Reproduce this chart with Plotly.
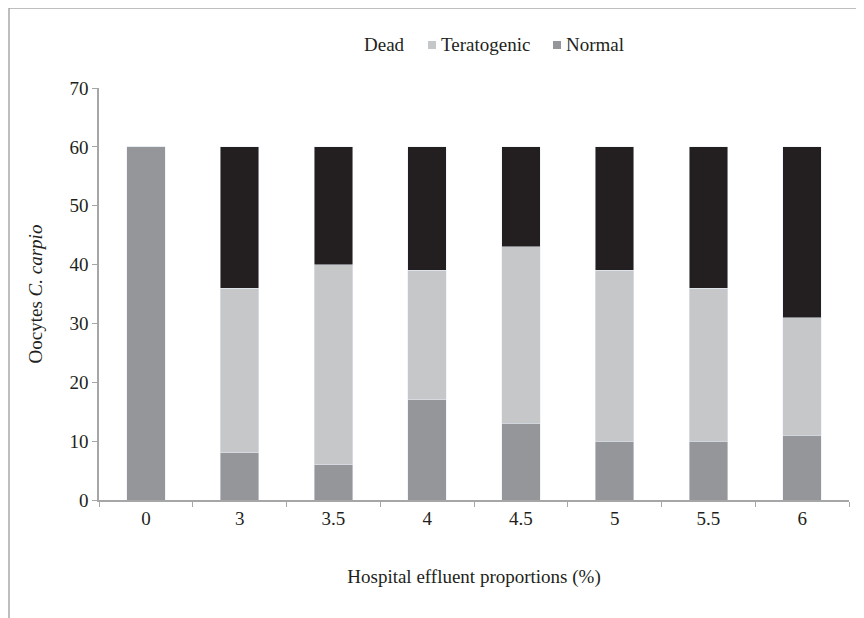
import plotly.graph_objects as go

categories = ["0", "3", "3.5", "4", "4.5", "5", "5.5", "6"]
normal = [60, 8, 6, 17, 13, 10, 10, 11]
teratogenic = [0, 28, 34, 22, 30, 29, 26, 20]
dead = [0, 24, 20, 21, 17, 21, 24, 29]
y_ticks = [0, 10, 20, 30, 40, 50, 60, 70]

C_NORMAL = "#959699"
C_TERAT = "#c6c7c8"
C_DEAD = "#231f20"
C_AXIS = "#a6a6a6"
FONT = "Liberation Serif"

OFF = 8  # page body offset
W, H = 864, 618
L, T = 99 - OFF, 88 - OFF
R = W - (849 - OFF)
B = H - (500 - OFF)
pw, ph = W - L - R, H - T - B

fig = go.Figure()
fig.add_bar(x=categories, y=normal, marker_color=C_NORMAL, name="Normal", showlegend=False)
fig.add_bar(x=categories, y=teratogenic, marker_color=C_TERAT, name="Teratogenic", showlegend=False)
fig.add_bar(x=categories, y=dead, marker_color=C_DEAD, name="Dead", showlegend=False)

def px(x):
    return (x - OFF - L) / pw
def py(y):
    return (H - B - (y - OFF)) / ph

shapes = [
    dict(type="line", xref="paper", yref="paper", x0=px(9), x1=px(880), y0=py(8), y1=py(8),
         line=dict(color="#a9a9a9", width=1.5)),
    dict(type="line", xref="paper", yref="paper", x0=px(9), x1=px(9), y0=py(8), y1=py(640),
         line=dict(color="#a9a9a9", width=1.5)),
    dict(type="rect", xref="paper", yref="paper", x0=px(428), x1=px(436), y0=py(41), y1=py(49),
         fillcolor=C_TERAT, line=dict(width=0)),
    dict(type="rect", xref="paper", yref="paper", x0=px(553), x1=px(561), y0=py(41), y1=py(49),
         fillcolor=C_NORMAL, line=dict(width=0)),
]
annotations = [
    dict(text="Dead", x=px(362), y=py(45), xanchor="left", yanchor="middle"),
    dict(text="Teratogenic", x=px(439), y=py(45), xanchor="left", yanchor="middle"),
    dict(text="Normal", x=px(564), y=py(45), xanchor="left", yanchor="middle"),
]
for a in annotations:
    a.update(xref="paper", yref="paper", showarrow=False, font=dict(family=FONT, size=19, color="#231f20"))

fig.update_layout(
    width=W, height=H,
    margin=dict(l=L, r=R, t=T, b=B, autoexpand=False),
    paper_bgcolor="white", plot_bgcolor="white",
    barmode="stack", bargap=0.59,
    font=dict(family=FONT, size=19, color="#231f20"),
    shapes=shapes, annotations=annotations,
    xaxis=dict(
        showline=True, linecolor=C_AXIS, linewidth=1.5, ticks="outside", tickson="boundaries",
        ticklen=5, tickcolor=C_AXIS, showgrid=False,
        title=dict(text="Hospital effluent proportions (%)", standoff=42, font=dict(size=19)),
        tickfont=dict(size=19),
    ),
    yaxis=dict(
        range=[0, 70], tickvals=y_ticks, showline=True, linecolor=C_AXIS, linewidth=1.5,
        ticks="outside", ticklen=5, tickcolor=C_AXIS, showgrid=False, zeroline=False,
        title=dict(text="Oocytes <i>C. carpio</i>", standoff=22, font=dict(size=19)),
        tickfont=dict(size=19),
    ),
)
fig.write_html("out.html")
